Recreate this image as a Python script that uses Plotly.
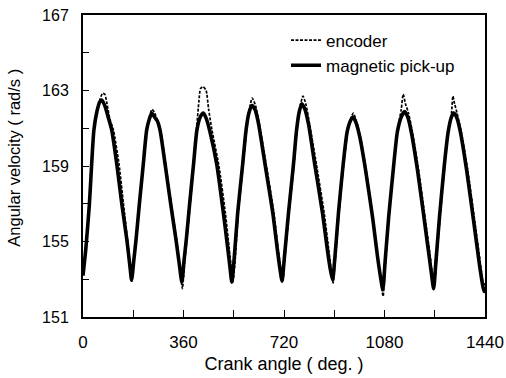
import plotly.graph_objects as go

# Crank angle (deg.) and angular velocity (rad/s)
pickup_angle = [0, 10, 23, 31, 39, 50, 60, 67, 78, 90, 103, 121, 139, 157, 168, 174,
                182, 190, 202, 216, 228, 238, 246, 256, 266, 276, 294, 314, 333, 345, 354,
                362, 370, 382, 396, 408, 420, 431, 442, 455, 479, 503, 518, 526, 533,
                541, 554, 572, 584, 594, 605, 616, 628, 652, 680, 696, 705, 713,
                721, 736, 754, 765, 775, 784, 795, 808, 830, 858, 875, 885, 894,
                902, 915, 932, 946, 958, 967, 978, 992, 1012, 1038, 1055, 1066, 1074,
                1082, 1095, 1112, 1126, 1140, 1152, 1163, 1176, 1198, 1222, 1240, 1249, 1256,
                1264, 1277, 1294, 1308, 1320, 1328, 1338, 1352, 1374, 1400, 1418, 1428, 1436, 1440]
pickup_vel = [153.2, 154.6, 157.0, 159.1, 160.9, 161.9, 162.4, 162.5, 162.2, 161.6, 160.9, 159.1, 157.0, 155.1, 153.7, 152.95,
              154.0, 155.1, 157.0, 159.1, 160.9, 161.5, 161.8, 161.6, 161.4, 160.9, 159.1, 157.0, 155.1, 153.8, 152.85,
              154.0, 155.1, 157.0, 159.1, 160.9, 161.6, 161.8, 161.5, 160.8, 159.1, 156.5, 154.7, 153.7, 152.85,
              154.0, 156.5, 159.1, 160.9, 161.8, 162.2, 162.0, 161.3, 159.1, 156.5, 154.6, 153.6, 152.9,
              154.1, 156.5, 159.1, 160.9, 161.9, 162.3, 162.0, 161.2, 159.1, 156.5, 154.6, 153.6, 152.95,
              154.1, 156.5, 159.1, 160.8, 161.4, 161.6, 161.3, 160.5, 158.8, 156.2, 154.2, 153.1, 152.45,
              153.9, 156.3, 158.9, 160.8, 161.6, 161.88, 161.6, 160.8, 158.8, 156.2, 154.2, 153.2, 152.5,
              153.9, 156.3, 159.0, 160.8, 161.6, 161.8, 161.6, 160.8, 158.8, 156.0, 154.0, 153.0, 152.35, 152.5]

encoder_angle = [0, 10, 23, 31, 39, 50, 60, 70, 78, 86, 96, 109, 129, 145, 160, 169, 175,
                 182, 190, 202, 216, 228, 238, 247, 257, 268, 279, 297, 317, 336, 348, 356,
                 364, 372, 384, 397, 407, 415, 421, 430, 441, 450, 462, 487, 510, 524, 532, 537,
                 545, 556, 574, 586, 596, 606, 618, 632, 656, 684, 699, 708, 715,
                 723, 738, 756, 767, 778, 788, 798, 812, 836, 864, 880, 889, 896,
                 904, 917, 934, 948, 959, 968, 979, 994, 1014, 1040, 1057, 1068, 1075,
                 1083, 1096, 1113, 1127, 1140, 1147, 1155, 1166, 1180, 1203, 1226, 1243, 1251, 1258,
                 1266, 1279, 1296, 1310, 1320, 1325, 1331, 1340, 1355, 1378, 1404, 1422, 1431, 1437, 1440]
encoder_vel = [153.2, 154.6, 157.0, 159.1, 160.9, 161.9, 162.5, 162.85, 162.8, 162.3, 161.5, 160.9, 159.1, 157.0, 155.0, 153.7, 152.9,
               154.0, 155.1, 157.0, 159.1, 160.9, 161.6, 162.0, 161.8, 161.3, 160.8, 159.0, 156.9, 155.0, 153.5, 152.5,
               153.9, 155.1, 157.0, 159.1, 161.0, 162.4, 163.1, 163.2, 163.0, 162.0, 160.9, 159.0, 156.5, 154.6, 153.5, 152.85,
               154.0, 156.5, 159.1, 160.9, 162.0, 162.6, 162.2, 161.2, 159.1, 156.5, 154.6, 153.6, 152.85,
               154.1, 156.5, 159.1, 161.0, 162.2, 162.7, 162.3, 161.2, 159.1, 156.5, 154.6, 153.5, 152.8,
               154.1, 156.5, 159.1, 160.8, 161.5, 161.8, 161.4, 160.5, 158.8, 156.1, 154.0, 152.8, 152.1,
               153.8, 156.3, 158.9, 160.9, 162.0, 162.8, 162.3, 161.8, 160.8, 158.7, 156.2, 154.3, 153.3, 152.6,
               153.9, 156.3, 159.0, 160.9, 161.8, 162.7, 162.3, 161.8, 160.8, 158.8, 156.0, 154.0, 153.0, 152.4, 152.8]

x_ticks = [0, 360, 720, 1080, 1440]
y_ticks = [151, 155, 159, 163, 167]

FONT = "Liberation Sans, Arial, sans-serif"

fig = go.Figure()
fig.add_trace(go.Scatter(
    x=encoder_angle, y=encoder_vel, mode="lines", name="encoder",
    line=dict(color="black", width=1.7, dash="3px,1.5px", shape="spline", smoothing=0.6),
))
fig.add_trace(go.Scatter(
    x=pickup_angle, y=pickup_vel, mode="lines", name="magnetic pick-up",
    line=dict(color="black", width=3.6, shape="spline", smoothing=0.6),
))

fig.update_layout(
    width=506, height=378,
    margin=dict(l=83, r=21, t=15, b=61, autoexpand=False),
    paper_bgcolor="white", plot_bgcolor="white",
    font=dict(family=FONT, color="black", size=16),
    showlegend=True,
    legend=dict(x=0.505, y=0.975, xanchor="left", yanchor="top",
                bgcolor="rgba(0,0,0,0)", font=dict(size=17, family=FONT),
                tracegroupgap=0, itemwidth=30),
    annotations=[dict(
        text="Angular velocity ( rad/s )", textangle=-90,
        xref="paper", yref="paper", x=-0.172, y=0.527,
        xanchor="center", yanchor="middle", showarrow=False,
        font=dict(size=16.5, family=FONT, color="black"),
    )],
)
fig.update_xaxes(
    range=[0, 1440], tickvals=x_ticks, ticktext=[str(v) for v in x_ticks],
    showgrid=False, zeroline=False, automargin=False,
    showline=True, linecolor="black", linewidth=2, mirror=True,
    ticks="inside", ticklen=7, tickwidth=1, tickcolor="black",
    minor=dict(tickvals=[180, 540, 900, 1260], ticks="inside", ticklen=7, tickcolor="black"),
    tickfont=dict(size=17, family=FONT), ticklabelstandoff=9,
    title=dict(text="Crank angle ( deg. )", font=dict(size=18, family=FONT), standoff=6),
)
fig.update_yaxes(
    range=[151, 167], tickvals=y_ticks, ticktext=[str(v) for v in y_ticks],
    showgrid=False, zeroline=False, automargin=False,
    showline=True, linecolor="black", linewidth=2, mirror=True,
    ticks="inside", ticklen=6, tickwidth=1, tickcolor="black",
    minor=dict(tickvals=[153, 157, 161, 165], ticks="inside", ticklen=6, tickcolor="black"),
    tickfont=dict(size=16, family=FONT), ticklabelstandoff=9,
)

fig.write_html("out.html")
